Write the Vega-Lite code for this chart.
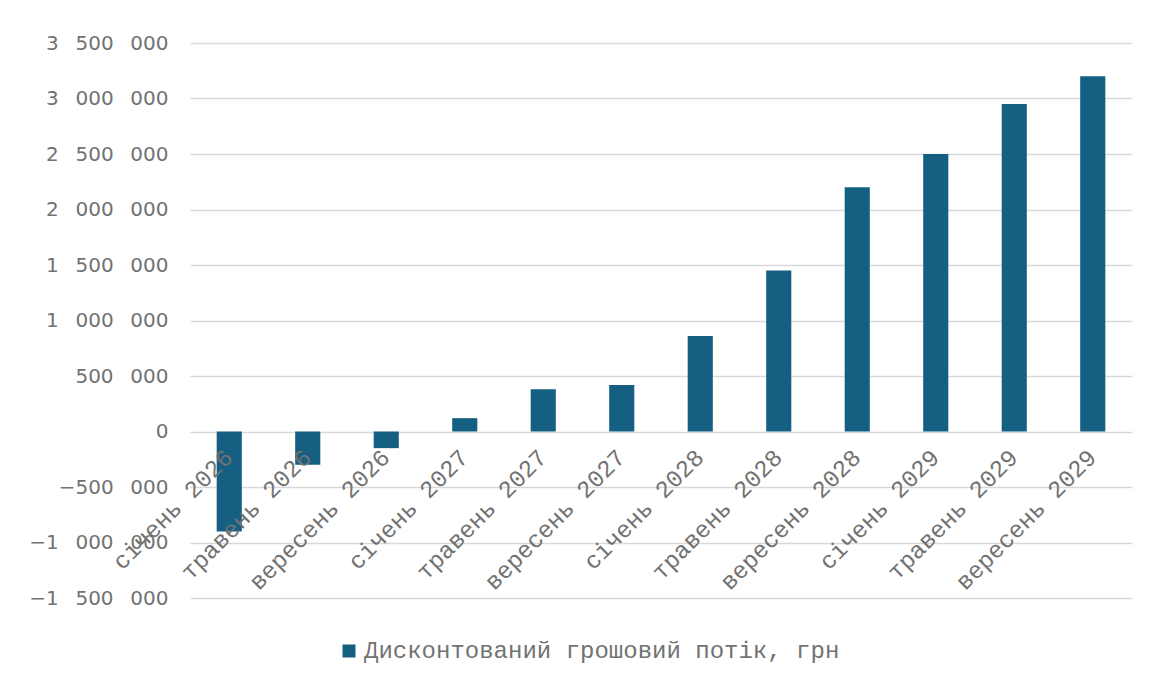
{
  "$schema": "https://vega.github.io/schema/vega-lite/v6.json",
  "width": 942,
  "height": 555,
  "autosize": "none",
  "padding": {"left": 190, "top": 43, "right": 18, "bottom": 81},
  "background": "white",
  "config": {
    "view": {"stroke": null},
    "font": "Liberation Mono"
  },
  "data": {
    "values": [
      {"period": "січень 2026", "value": -900000},
      {"period": "травень 2026", "value": -300000},
      {"period": "вересень 2026", "value": -150000},
      {"period": "січень 2027", "value": 120000},
      {"period": "травень 2027", "value": 380000},
      {"period": "вересень 2027", "value": 420000},
      {"period": "січень 2028", "value": 860000},
      {"period": "травень 2028", "value": 1450000},
      {"period": "вересень 2028", "value": 2200000},
      {"period": "січень 2029", "value": 2500000},
      {"period": "травень 2029", "value": 2950000},
      {"period": "вересень 2029", "value": 3200000}
    ]
  },
  "mark": {"type": "bar"},
  "encoding": {
    "x": {
      "field": "period",
      "type": "nominal",
      "sort": null,
      "title": null,
      "scale": {"paddingInner": 0.68, "paddingOuter": 0.34},
      "axis": {
        "offset": -166.5,
        "zindex": 1,
        "domain": false,
        "ticks": false,
        "grid": false,
        "labelAngle": -45,
        "labelAlign": "right",
        "labelBaseline": "middle",
        "labelPadding": 22,
        "labelLimit": 0,
        "labelFont": "Liberation Mono",
        "labelFontSize": 24,
        "labelColor": "#727272",
        "labelOverlap": false
      }
    },
    "y": {
      "field": "value",
      "type": "quantitative",
      "title": null,
      "scale": {"domain": [-1500000, 3500000], "nice": false, "zero": false},
      "axis": {
        "values": [-1500000, -1000000, -500000, 0, 500000, 1000000, 1500000, 2000000, 2500000, 3000000, 3500000],
        "labelExpr": "replace(format(datum.value, ',d'), /,/g, '\u2007\u2009')",
        "domain": false,
        "ticks": false,
        "grid": true,
        "gridColor": "#d9d9d9",
        "gridWidth": 1.5,
        "labelPadding": 22,
        "labelFont": "DejaVu Sans",
        "labelFontSize": 20,
        "labelColor": "#727272"
      }
    },
    "color": {
      "datum": "Дисконтований грошовий потік, грн",
      "scale": {"range": ["#156082"]},
      "legend": {
        "orient": "none",
        "legendX": 147,
        "legendY": 596,
        "title": null,
        "symbolType": "square",
        "symbolSize": 169,
        "symbolStrokeWidth": 0,
        "labelFont": "Liberation Mono",
        "labelFontSize": 24,
        "labelColor": "#727272",
        "labelOffset": 3,
        "labelLimit": 0
      }
    }
  }
}
